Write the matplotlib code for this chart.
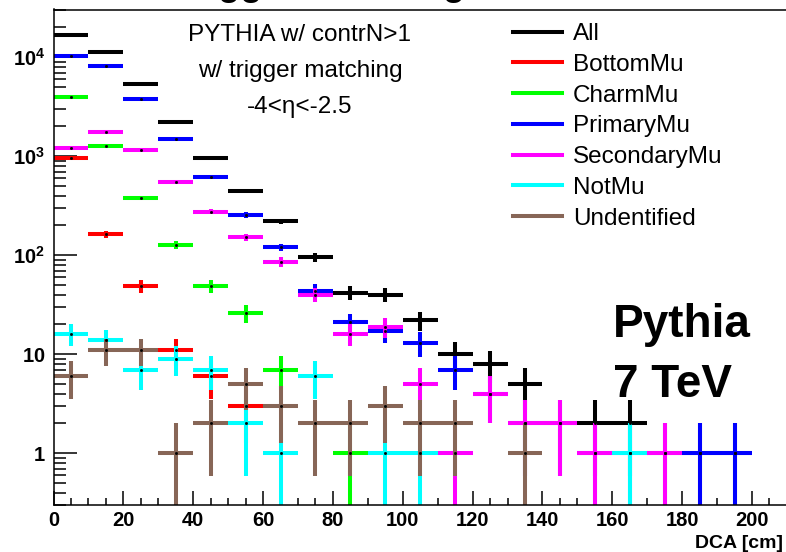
import numpy as np
import matplotlib
matplotlib.use('Agg')
import matplotlib.pyplot as plt
from matplotlib.lines import Line2D
from matplotlib.ticker import MultipleLocator, LogLocator, FixedLocator, FuncFormatter, NullFormatter

plt.rcParams['font.family'] = ['Liberation Sans', 'DejaVu Sans']
plt.rcParams['mathtext.fontset'] = 'custom'
plt.rcParams['mathtext.rm'] = 'Liberation Sans'
plt.rcParams['mathtext.bf'] = 'Liberation Sans:bold'

# DCA bins: 0-200 cm in 10 cm steps (bin centres)
bin_centres = [5, 15, 25, 35, 45, 55, 65, 75, 85, 95,
               105, 115, 125, 135, 145, 155, 165, 175, 185, 195]

all_mu    = [16700, 11400, 5350, 2200, 950, 448, 219, 95, 42, 40,
             22, 10, 8, 5, 2, 2, 2, 1, 1, 1]
bottom_mu = [950, 163, 49, 11, 6, 3, 0, 0, 0, 0,
             0, 0, 0, 0, 0, 0, 0, 0, 0, 0]
charm_mu  = [3950, 1260, 378, 127, 49, 26, 7, 0, 1, 0,
             0, 0, 0, 0, 0, 0, 0, 0, 0, 0]
primary_mu = [10280, 8220, 3740, 1480, 611, 256, 120, 44, 21, 17,
              13, 7, 4, 2, 0, 1, 1, 0, 1, 1]
secondary_mu = [1222, 1763, 1160, 544, 275, 151, 86, 40, 16, 19,
                5, 1, 4, 2, 2, 1, 0, 1, 0, 0]
not_mu    = [16, 14, 7, 9, 7, 2, 1, 6, 0, 1,
             1, 0, 0, 0, 0, 0, 1, 0, 0, 0]
unidentified = [6, 11, 11, 1, 2, 5, 3, 2, 2, 3,
                2, 2, 0, 1, 0, 0, 0, 0, 0, 0]

labels = ['All', 'BottomMu', 'CharmMu', 'PrimaryMu', 'SecondaryMu', 'NotMu', 'Undentified']
series = [all_mu, bottom_mu, charm_mu, primary_mu, secondary_mu, not_mu, unidentified]
colors = ['#000000', '#ff0000', '#00ff00', '#0000ff', '#ff00ff', '#00ffff', '#876657']

W, H = 786, 552
fig = plt.figure(figsize=(W / 100, H / 100), dpi=100)

# axes placed in pixel units, frame runs off the right edge
x0, y_top, y_bot = 53.5, 9.5, 505
px_per_cm = 3.4925
xmax = 215
ax = fig.add_axes([x0 / W, 1 - y_bot / H, xmax * px_per_cm / W, (y_bot - y_top) / H])

x = np.array(bin_centres, dtype=float)
for vals, color in zip(series, colors):
    v = np.array(vals, dtype=float)
    m = v > 0
    err = np.sqrt(v[m])
    lower = np.minimum(err, v[m] * 0.9999)
    ax.errorbar(x[m], v[m], xerr=5, yerr=[lower, err], fmt='s', ms=1.0,
                mfc='black', mec='black', ecolor=color, elinewidth=2.9, capsize=0)

ax.set_yscale('log')
ax.set_xlim(0, xmax)
ax.set_ylim(0.3, 3.03e4)

# x ticks
ax.xaxis.set_major_locator(MultipleLocator(20))
ax.xaxis.set_minor_locator(MultipleLocator(5))
ax.tick_params(axis='x', which='major', direction='in', length=10, width=1.1,
               pad=4, labelsize=14.5, top=False)
ax.tick_params(axis='x', which='minor', direction='in', length=5, width=1.1, top=False)
for lab in ax.get_xticklabels():
    lab.set_fontweight('bold')

# y ticks
ax.yaxis.set_major_locator(FixedLocator([1, 10, 100, 1000, 10000]))
ax.yaxis.set_minor_locator(LogLocator(base=10, subs=np.arange(2, 10)))
ax.yaxis.set_minor_formatter(NullFormatter())


def ylab(v, pos):
    if v == 1:
        return r'$\mathbf{1}$'
    if v == 10:
        return r'$\mathbf{10}$'
    return r'$\mathbf{10^{%d}}$' % int(round(np.log10(v)))


ax.yaxis.set_major_formatter(FuncFormatter(ylab))
ax.tick_params(axis='y', which='major', direction='in', length=16.5, width=1.1,
               pad=6, labelsize=14.5, right=False)
ax.tick_params(axis='y', which='minor', direction='in', length=8.6, width=1.1, right=False)

for s in ax.spines.values():
    s.set_linewidth(1.1)

# x axis title at the right end
fig.text(783 / W, 1 - 548 / H, 'DCA [cm]', ha='right', va='baseline',
         fontsize=14, fontweight='bold')

# title sits almost entirely above the top edge of the canvas
fig.text(174 / W, 1 + 5 / H, 'Trigger Matching', ha='left', va='baseline',
         fontsize=26, fontweight='bold')

# selection text
for txt, yb in [('PYTHIA w/ contrN>1', 41), ('w/ trigger matching', 77),
                ('-4<\u03b7<-2.5', 113)]:
    fig.text(300 / W, 1 - yb / H, txt, ha='center', va='baseline', fontsize=17.5)

fig.text(613 / W, 1 - 337 / H, 'Pythia', ha='left', va='baseline',
         fontsize=33, fontweight='bold')
fig.text(613 / W, 1 - 397 / H, '7 TeV', ha='left', va='baseline',
         fontsize=33, fontweight='bold')

handles = [Line2D([], [], color=c, lw=2.9) for c in colors]
ax.legend(handles, labels, loc='upper left', bbox_to_anchor=(513 / W, 1 - 23 / H),
          bbox_transform=fig.transFigure, frameon=False, fontsize=17.5,
          handlelength=2.02, handletextpad=0.45, labelspacing=0.36,
          borderpad=0, borderaxespad=0)

plt.savefig('out.png', dpi=100)
